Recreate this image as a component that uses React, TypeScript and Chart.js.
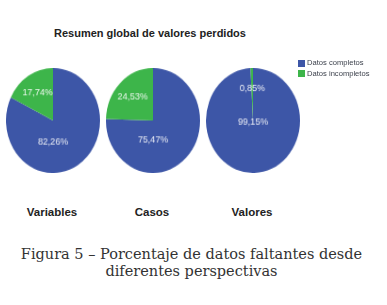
import React, { useEffect, useRef } from "react";
import { Chart, registerables } from "chart.js";

Chart.register(...registerables);

// ---- data ----
const categories = ["Variables", "Casos", "Valores"];
const seriesNames = ["Datos completos", "Datos incompletos"];
const completos = [82.26, 75.47, 99.15];
const incompletos = [17.74, 24.53, 0.85];
const chartTitle = "Resumen global de valores perdidos";
const captionLines = [
  "Figura 5 – Porcentaje de datos faltantes desde",
  "diferentes perspectivas",
];

// ---- styles ----
const BLUE = "#3d56a7";
const GREEN = "#3db54a";
const pieLeft = [6, 106, 206];
const bigLabelDrop = [0.41, 0.37, 0.03];

const fmt = (v: number) => v.toFixed(2).replace(".", ",") + "%";

function makeLabelPlugin(idx: number) {
  return {
    id: "sliceLabels" + idx,
    afterDatasetsDraw(chart: any) {
      const ctx = chart.ctx;
      const meta = chart.getDatasetMeta(0);
      const data = chart.data.datasets[0].data as number[];
      ctx.save();
      ctx.fillStyle = "rgba(255,255,255,0.9)";
      ctx.font = "9.5px 'Liberation Sans', Arial, sans-serif";
      ctx.textAlign = "center";
      ctx.textBaseline = "middle";
      meta.data.forEach((arc: any, i: number) => {
        const p = arc.getProps(["x", "y", "startAngle", "endAngle", "outerRadius"], true);
        const v = data[i];
        let lx: number, ly: number;
        if (v < 50) {
          const mid = (p.startAngle + p.endAngle) / 2;
          lx = p.x + Math.cos(mid) * p.outerRadius * 0.62;
          ly = p.y + Math.sin(mid) * p.outerRadius * 0.62;
        } else {
          lx = p.x;
          ly = p.y + p.outerRadius * bigLabelDrop[idx];
        }
        ctx.fillText(fmt(v), lx, ly);
      });
      ctx.restore();
    },
  };
}

function Pie({ idx }: { idx: number }) {
  const ref = useRef<HTMLCanvasElement>(null);
  useEffect(() => {
    const chart = new Chart(ref.current as HTMLCanvasElement, {
      type: "pie",
      data: {
        labels: seriesNames,
        datasets: [
          {
            data: [completos[idx], incompletos[idx]],
            backgroundColor: [BLUE, GREEN],
            borderWidth: 0,
          },
        ],
      },
      options: {
        responsive: false,
        animation: false,
        layout: { padding: 0 },
        plugins: { legend: { display: false }, tooltip: { enabled: false } },
      },
      plugins: [makeLabelPlugin(idx)],
    } as any);
    return () => chart.destroy();
  }, [idx]);
  return (
    <div
      style={{
        position: "absolute",
        left: pieLeft[idx],
        top: 68,
        width: 100,
        height: 100,
        transform: "scale(0.94, 1.05)",
        transformOrigin: "0 0",
      }}
    >
      <canvas ref={ref} width={100} height={100} style={{ display: "block" }} />
    </div>
  );
}

export default function App() {
  const sans = "'Liberation Sans', Arial, sans-serif";
  return (
    <div
      style={{
        position: "absolute",
        left: 0,
        top: 0,
        width: 387,
        height: 305,
        background: "#fff",
        overflow: "hidden",
        fontFamily: sans,
      }}
    >
      <div
        style={{
          position: "absolute",
          left: 50,
          width: 200,
          top: 27,
          textAlign: "center",
          fontWeight: "bold",
          fontSize: 11,
          color: "#222",
          whiteSpace: "nowrap",
        }}
      >
        {chartTitle}
      </div>

      {categories.map((_, i) => (
        <Pie key={i} idx={i} />
      ))}

      {/* legend */}
      <div style={{ position: "absolute", left: 298, top: 58, fontSize: 7.6, color: "#3a3f4a", lineHeight: "10.5px" }}>
        {seriesNames.map((n, i) => (
          <div key={n} style={{ display: "flex", alignItems: "center", whiteSpace: "nowrap" }}>
            <span
              style={{
                display: "inline-block",
                width: 7,
                height: 7,
                background: i === 0 ? BLUE : GREEN,
                marginRight: 2,
              }}
            />
            {n}
          </div>
        ))}
      </div>

      {categories.map((c, i) => (
        <div
          key={c}
          style={{
            position: "absolute",
            left: pieLeft[i] + 46 - 50,
            width: 100,
            top: 206,
            textAlign: "center",
            fontWeight: "bold",
            fontSize: 11.5,
            color: "#222",
          }}
        >
          {c}
        </div>
      ))}

      <div
        style={{
          position: "absolute",
          left: 0,
          width: 383,
          top: 246,
          textAlign: "center",
          fontFamily: "'DejaVu Serif', serif",
          fontSize: 14.5,
          lineHeight: "17px",
          color: "#333",
        }}
      >
        {captionLines.map((l) => (
          <div key={l} style={{ whiteSpace: "nowrap" }}>{l}</div>
        ))}
      </div>
    </div>
  );
}
